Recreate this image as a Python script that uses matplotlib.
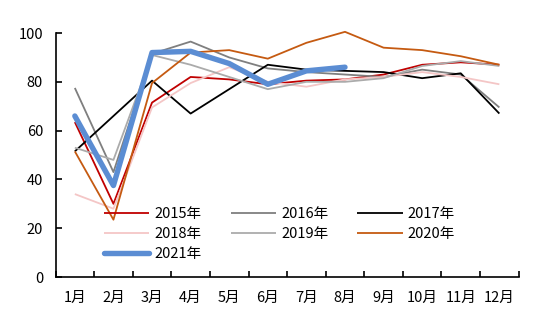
import matplotlib
matplotlib.use("Agg")
import matplotlib.pyplot as plt
import numpy as np

plt.rcParams['font.family'] = ['Noto Sans CJK SC', 'DejaVu Sans']

months = ["1月", "2月", "3月", "4月", "5月", "6月", "7月", "8月", "9月", "10月", "11月", "12月"]

y2015 = [63.5, 30, 71.5, 82, 81, 79, 80.5, 81, 83, 87, 88, 87]
y2016 = [77.5, 43, 91.5, 96.5, 90, 85.5, 84, 83, 82, 85, 83, 69.5]
y2017 = [51.5, 66, 80.5, 67, 77, 87, 85, 84.5, 84, 81.5, 83.5, 67]
y2018 = [34, 28, 69.5, 79.5, 86, 80, 78, 81, 82, 84, 82, 79]
y2019 = [53, 48, 91, 87, 82, 77, 80, 80, 81.5, 86.5, 88.5, 86.5]
y2020 = [51.5, 23.5, 79.5, 92, 93, 89.5, 96, 100.5, 94, 93, 90.5, 87]
y2021 = [66, 37.5, 92, 92.5, 87.5, 79, 84.5, 86]

series = [
    ("2015年", y2015, "#C00000", 1.3),
    ("2016年", y2016, "#7F7F7F", 1.3),
    ("2017年", y2017, "#000000", 1.3),
    ("2018年", y2018, "#F4C6C6", 1.3),
    ("2019年", y2019, "#ABABAB", 1.3),
    ("2020年", y2020, "#C55A11", 1.3),
    ("2021年", y2021, "#5B8DD3", 3.9),
]

fig = plt.figure(figsize=(5.5, 3.24), dpi=100)
ax = fig.add_axes([0.101, 0.145, 0.842, 0.753])

handles = {}
for name, vals, color, lw in series:
    x = np.arange(len(vals))
    ln, = ax.plot(x, vals, color=color, lw=lw, label=name,
                  solid_capstyle='round' if lw > 2 else 'butt', clip_on=False)
    handles[name] = ln

ax.set_xlim(-0.5, 11.5)
ax.set_ylim(0, 100)
ax.set_yticks([0, 20, 40, 60, 80, 100])
ax.set_xticks(np.arange(12))
ax.set_xticklabels(months)
ax.set_xticks(np.arange(-0.5, 12, 1), minor=True)
ax.tick_params(axis='x', which='major', length=0, pad=10, labelsize=10.5)
ax.tick_params(axis='x', which='minor', direction='in', length=4, width=1.2)
ax.tick_params(axis='y', direction='in', length=4, width=1.2, labelsize=10.5, pad=9)

for s in ['top', 'right']:
    ax.spines[s].set_visible(False)
for s in ['left', 'bottom']:
    ax.spines[s].set_linewidth(1.2)

order = ["2015年", "2018年", "2021年", "2016年", "2019年", "2017年", "2020年"]
ax.legend([handles[k] for k in order], order, ncol=3, frameon=False,
          loc='upper left', bbox_to_anchor=(0.092, 0.31), borderaxespad=0,
          handlelength=3.1, handletextpad=0.35, columnspacing=2.0,
          labelspacing=0.42, fontsize=10.5)

fig.savefig("out.png", dpi=100)
